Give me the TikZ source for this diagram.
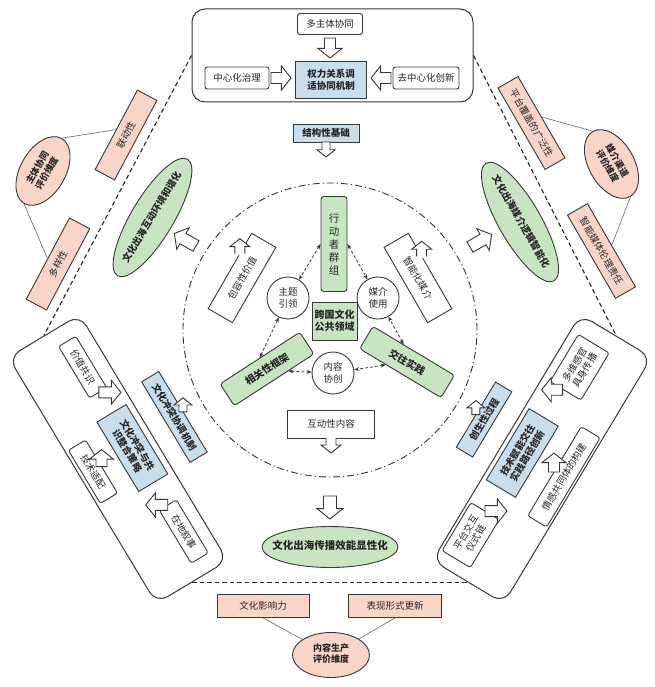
\documentclass[tikz,border=0pt]{standalone}
\usepackage{fontspec}
\setmainfont{Noto Sans CJK SC}
\usetikzlibrary{shapes.geometric,arrows.meta,calc}
\definecolor{pinkf}{RGB}{249,213,200}
\definecolor{greenf}{RGB}{200,229,194}
\definecolor{bluef}{RGB}{200,222,237}
\definecolor{lc}{RGB}{55,55,55}
\newcommand{\zw}[1]{\makebox[0pt]{\begin{tabular}{@{}c@{}}#1\end{tabular}}}
\tikzset{
  arrline/.style={draw=lc, line width=0.9pt, fill=white, line join=miter},
  pics/harrow/.style n args={3}{code={
    \draw[arrline] (0,-#2) -- ({#1-0.8*#3},-#2) -- ({#1-0.8*#3},-#3) -- (#1,0) -- ({#1-0.8*#3},#3) -- ({#1-0.8*#3},#2) -- (0,#2) -- cycle;
  }},
  pics/oarrow/.style n args={3}{code={
    \fill[white] (-1.4,-#2) -- ({#1-0.8*#3},-#2) -- ({#1-0.8*#3},-#3) -- (#1,0) -- ({#1-0.8*#3},#3) -- ({#1-0.8*#3},#2) -- (-1.4,#2) -- cycle;
    \draw[draw=lc, line width=0.9pt] (0,-#2) -- ({#1-0.8*#3},-#2) -- ({#1-0.8*#3},-#3) -- (#1,0) -- ({#1-0.8*#3},#3) -- ({#1-0.8*#3},#2) -- (0,#2);
  }},
}
\begin{document}
\begin{tikzpicture}[x=1pt,y=1pt,
  every node/.style={font=\fontsize{9.5}{11.5}\selectfont, text=black!85},
  ln/.style={draw=lc, line width=0.9pt},
  wbox/.style={ln, fill=white, rounded corners=2.5pt, inner sep=1pt, align=center, transform shape},
  bbox/.style={ln, fill=bluef, inner sep=1pt, align=center, font=\fontsize{9.5}{11.5}\selectfont\bfseries, transform shape},
  pbox/.style={ln, fill=pinkf, inner sep=1pt, align=center},
  gbox/.style={ln, fill=greenf, rounded corners=3pt, inner sep=1pt, align=center, transform shape},
  bigbox/.style={ln, line width=1pt, rounded corners=13pt, transform shape},
  gell/.style={ln, ellipse, fill=greenf, inner sep=0pt, font=\fontsize{9.5}{11.5}\selectfont\bfseries},
  pell/.style={ln, ellipse, fill=pinkf, inner sep=0pt, font=\fontsize{9}{11}\selectfont\bfseries},
  circ/.style={ln, circle, fill=white, minimum size=42pt, inner sep=0pt, align=center},
  hexline/.style={draw=black!85, line width=1.1pt, dash pattern=on 4.5pt off 3pt},
  ringline/.style={draw=black!80, line width=0.9pt, dash pattern=on 7pt off 3pt on 1.2pt off 3pt},
  darr/.style={draw=lc, line width=0.8pt, dash pattern=on 3pt off 2pt, {Stealth[length=5pt,width=4pt]}-{Stealth[length=5pt,width=4pt]}},
  tie/.style={draw=black!60, line width=0.6pt},
]
\useasboundingbox (0,0) rectangle (654,-687);
\fill[white] (0,0) rectangle (654,-687);

% ring
\draw[ringline] (330,-330) circle[radius=147];

% ---------- top box ----------
\node[bigbox, minimum width=281, minimum height=93] (T) at (332.5,-55.5) {};
\node[wbox, minimum width=65, minimum height=21] (t1) at (330,-24) {多主体协同};
\node[bbox, minimum width=71, minimum height=37] (tc) at (331,-80) {权力关系调\\适协同机制};
\node[wbox, minimum width=64, minimum height=22] (t2) at (237,-78) {中心化治理};
\node[wbox, minimum width=66, minimum height=22] (t3) at (426,-78) {去中心化创新};
\pic[rotate=-90] at (330,-38) {harrow={20}{5.5}{12}};
\pic at (271,-78) {harrow={20}{5.5}{12}};
\pic[rotate=180] at (391,-78) {harrow={20}{5.5}{12}};
\node[bbox, minimum width=66, minimum height=18] (tb) at (326,-133) {结构性基础};
\pic[rotate=-90] at (326,-142) {harrow={15}{4}{9}};

% ---------- lower left box ----------
\begin{scope}[shift={(118,-459)}, rotate=-59]
\node[bigbox, minimum width=287, minimum height=83] (L) at (0,0) {};
\node[wbox, minimum width=60, minimum height=20] (l1) at (-97,17) {价值共识};
\node[bbox, minimum width=81, minimum height=34] (llc) at (-2,18) {文化冲突与共\\识整合策略};
\node[wbox, minimum width=62, minimum height=20] (l2) at (-2,-28) {技术适配};
\node[wbox, minimum width=62, minimum height=20] (l3) at (96,19) {在地叙事};
\pic at (-67,18) {harrow={22}{5.5}{12}};
\pic[rotate=90] at (-2,-18) {harrow={17}{5.5}{12}};
\pic[rotate=180] at (65,19) {harrow={22}{5.5}{12}};
\node[bbox, minimum width=94, minimum height=20] (lb) at (-7,70) {文化冲突协调机制};
\pic[rotate=90] at (-7,80) {harrow={14}{4}{9}};
\end{scope}

% ---------- lower right box ----------
\begin{scope}[shift={(542,-459)}, rotate=59]
\node[bigbox, minimum width=287, minimum height=83] (R) at (0,0) {};
\node[wbox, minimum width=55, minimum height=36] (r1) at (98,15) {多维感官\\具身传播};
\node[bbox, minimum width=83, minimum height=34] (rc) at (-5,20) {技术赋能交往\\实践路径创新};
\node[wbox, minimum width=104, minimum height=22] (r2) at (-4,-28) {情感共同体的构建};
\node[wbox, minimum width=56, minimum height=33] (r3) at (-102,22) {平台交互\\仪式链};
\pic[rotate=180] at (70,18) {harrow={21}{5.5}{12}};
\pic[rotate=90] at (-5,-17) {harrow={19}{5.5}{12}};
\pic at (-74,22) {harrow={22}{5.5}{12}};
\node[bbox, minimum width=76, minimum height=19] (rb) at (4,70) {创生性过程};
\pic[rotate=90] at (4,79.5) {harrow={14}{4}{9}};
\end{scope}

% ---------- dashed hexagon sides ----------
\draw[hexline] (T.west) -- (L.west);
\draw[hexline] (T.east) -- (R.east);
\draw[hexline] (L.east) -- (R.west);

% ---------- upper left ----------
\node[gell, rotate=59, minimum width=136, minimum height=42] (g1) at (152.5,-217.5) {\zw{文化出海互动环境和谐化}};
\pic[rotate=150] at (196,-246) {harrow={25}{6}{12.5}};
\node[pbox, rotate=62, minimum width=90, minimum height=22] (p1) at (126,-135) {联动性};
\node[pbox, rotate=62, minimum width=92, minimum height=23] (p2) at (58,-264) {多样性};
\node[pell, rotate=60, minimum width=75, minimum height=45] (e1) at (43,-171) {\zw{主体协同\\评价维度}};
\draw[tie] (e1.east) -- (p1.north);
\draw[tie] (e1.west) -- (p2.north);

% ---------- upper right ----------
\node[gell, rotate=-60, minimum width=136, minimum height=42] (g2) at (520,-222) {\zw{文化出海媒介逻辑智能化}};
\pic[rotate=30] at (470,-247) {harrow={25}{6}{12.5}};
\node[pbox, rotate=-60, minimum width=94, minimum height=23] (p3) at (531.5,-123) {平台覆盖的广泛性};
\node[pbox, rotate=-60, minimum width=96, minimum height=23] (p4) at (601.5,-251) {智能媒体伦理责任};
\node[pell, rotate=-60, minimum width=75, minimum height=45] (e2) at (611.5,-164) {\zw{媒介渠道\\评价维度}};
\draw[tie] (e2.west) -- (p3.north);
\draw[tie] (e2.east) -- (p4.north);

% ---------- bottom ----------
\pic[rotate=-90] at (330,-496) {harrow={23}{6.5}{13}};
\node[gell, minimum width=136, minimum height=41, font=\fontsize{10.5}{12}\selectfont\bfseries] (g3) at (330,-547) {\zw{文化出海传播效能显性化}};
\node[pbox, minimum width=92, minimum height=23] (p5) at (263,-606) {文化影响力};
\node[pbox, minimum width=93, minimum height=23] (p6) at (395,-606) {表现形式更新};
\node[pell, minimum width=77, minimum height=45] (e3) at (331,-655) {\zw{内容生产\\评价维度}};
\draw[tie] (p5.south) -- (e3);
\draw[tie] (p6.south) -- (e3);

% ---------- centre ----------
\begin{scope}[shift={(331,-424)}]
\node[wbox, rounded corners=0pt, minimum width=87, minimum height=28] (k3) at (0,0) {互动性内容};
\pic[rotate=-90] at (0,-14) {oarrow={15}{5}{10}};
\end{scope}
\begin{scope}[shift={(242,-278)}, rotate=60]
\node[wbox, rounded corners=0pt, minimum width=87, minimum height=28] (k1) at (0,0) {包容性价值};
\pic[rotate=90] at (20,14) {oarrow={15}{5}{10}};
\end{scope}
\begin{scope}[shift={(418,-278)}, rotate=-60]
\node[wbox, rounded corners=0pt, minimum width=87, minimum height=28] (k2) at (0,0) {智能化媒介};
\pic[rotate=90] at (-17,14) {oarrow={15}{5}{10}};
\end{scope}

\node[gbox, minimum width=26, minimum height=95, font=\fontsize{10.5}{13}\selectfont] (a1) at (334,-244) {行\\动\\者\\群\\组};
\node[gbox, rotate=33, minimum width=95, minimum height=26, font=\fontsize{10}{12}\selectfont\bfseries] (a2) at (267,-369) {相关性框架};
\node[gbox, rotate=-31, minimum width=95, minimum height=26, font=\fontsize{10}{12}\selectfont\bfseries] (a3) at (407,-362) {交往实践};
\node[circ] (c1) at (288,-298) {主题\\引领};
\node[circ] (c2) at (378,-298) {媒介\\使用};
\node[circ] (c3) at (333,-373) {内容\\协创};
\node[gbox, rounded corners=0pt, minimum width=45, minimum height=38, font=\fontsize{10}{12}\selectfont\bfseries] (core) at (334.5,-321) {跨国文化\\公共领域};

\coordinate (a2r) at ($(a2.south)!0.35!(a2.south east)$);
\coordinate (a3l) at ($(a3.south)!0.35!(a3.south west)$);
\coordinate (a3t) at ($(a3.north)!0.25!(a3.north west)$);
\draw[darr] (a1.west) -- (c1);
\draw[darr] (a1.east) -- (c2);
\draw[darr] (a2.north) -- (c1);
\draw[darr] (a2r) -- (c3);
\draw[darr] (a3l) -- (c3);
\draw[darr] (a3t) -- (c2);
\end{tikzpicture}
\end{document}
